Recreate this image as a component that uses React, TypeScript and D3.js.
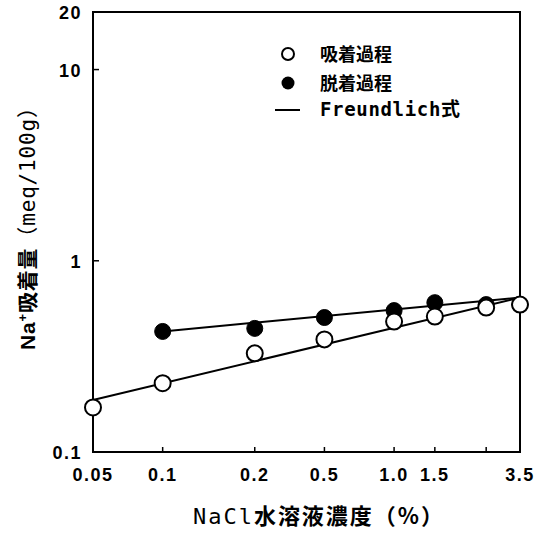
import * as d3 from 'd3'

// NaCl concentration (%) and Na+ adsorbed (meq/100g)
const concentrations = [0.05, 0.1, 0.25, 0.5, 1.0, 1.5, 2.5, 3.5]
const adsorption = [0.171, 0.229, 0.328, 0.388, 0.481, 0.511, 0.569, 0.59]
const desorptionConc = [0.1, 0.25, 0.5, 1.0, 1.5, 2.5, 3.5]
const desorption = [0.427, 0.443, 0.505, 0.549, 0.604, 0.59, 0.59]

// Freundlich fit lines (straight in log-log), end points
const adsorptionFitConc = [0.05, 3.5]
const adsorptionFit = [0.187, 0.642]
const desorptionFitConc = [0.1, 3.5]
const desorptionFit = [0.427, 0.642]

const xTicks = [0.05, 0.1, 0.25, 0.5, 1.0, 1.5, 2.5, 3.5]
const xTickLabels = ['0.05', '0.1', '0.2', '0.5', '1.0', '1.5', '', '3.5']
const yTicks = [0.1, 1, 10, 20]
const yTickLabels = ['0.1', '1', '10', '20']

const W = 534
const H = 535
const margin = { top: 12, right: 14, bottom: 83, left: 93 }

const tickFont = '"Liberation Sans", Arial, sans-serif'
const cjkFont = '"Noto Sans CJK JP", sans-serif'
const monoFont = '"DejaVu Sans Mono", monospace'

export default function App() {
  const x = d3.scaleLog().domain([0.05, 3.5]).range([margin.left, W - margin.right])
  const y = d3.scaleLog().domain([0.1, 20]).range([H - margin.bottom, margin.top])

  const line = d3.line<[number, number]>()
    .x(d => x(d[0]))
    .y(d => y(d[1]))

  const adsFit = adsorptionFitConc.map((c, i) => [c, adsorptionFit[i]] as [number, number])
  const desFit = desorptionFitConc.map((c, i) => [c, desorptionFit[i]] as [number, number])

  const x0 = margin.left
  const x1 = W - margin.right
  const y0 = H - margin.bottom
  const y1 = margin.top

  return (
    <svg width={W} height={H} style={{ position: 'absolute', left: 0, top: 0, background: '#fff' }}>
      {/* frame */}
      <rect x={x0} y={y1} width={x1 - x0} height={y0 - y1} fill="none" stroke="#000" strokeWidth={2} />

      {/* x ticks, inward */}
      {xTicks.map((t, i) => (
        <g key={'xt' + i}>
          <line x1={x(t)} x2={x(t)} y1={y0} y2={y0 - 5} stroke="#000" strokeWidth={1.5} />
          <text x={x(t)} y={y0 + 29} textAnchor="middle" fontFamily={tickFont} fontWeight="bold"
            fontSize={18} letterSpacing={1.5}>{xTickLabels[i]}</text>
        </g>
      ))}

      {/* y ticks, inward */}
      {yTicks.map((t, i) => (
        <g key={'yt' + i}>
          {t > 0.1 && t < 20 && (
            <line x1={x0} x2={x0 + 6} y1={y(t)} y2={y(t)} stroke="#000" strokeWidth={1.5} />
          )}
          <text x={82} y={y(t) + 7} textAnchor="end" fontFamily={tickFont} fontWeight="bold"
            fontSize={18} letterSpacing={1.5}>{yTickLabels[i]}</text>
        </g>
      ))}

      {/* Freundlich lines */}
      <path d={line(adsFit) ?? ''} fill="none" stroke="#000" strokeWidth={2} />
      <path d={line(desFit) ?? ''} fill="none" stroke="#000" strokeWidth={2} />

      {/* desorption (filled) */}
      {desorptionConc.map((c, i) => (
        <circle key={'d' + i} cx={x(c)} cy={y(desorption[i])} r={8} fill="#000" stroke="#000" strokeWidth={1} />
      ))}

      {/* adsorption (open) */}
      {concentrations.map((c, i) => (
        <circle key={'a' + i} cx={x(c)} cy={y(adsorption[i])} r={8} fill="#fff" stroke="#000" strokeWidth={2} />
      ))}

      {/* legend */}
      <circle cx={288} cy={54} r={6} fill="#fff" stroke="#000" strokeWidth={2} />
      <text x={320} y={61} fontFamily={cjkFont} fontSize={18} fontWeight="bold">吸着過程</text>
      <circle cx={288} cy={83} r={6.5} fill="#000" />
      <text x={320} y={90} fontFamily={cjkFont} fontSize={18} fontWeight="bold">脱着過程</text>
      <line x1={275} x2={300} y1={110} y2={110} stroke="#000" strokeWidth={2} />
      <text x={320} y={116} fontSize={19} textLength={140} lengthAdjust="spacing">
        <tspan fontFamily={monoFont} fontWeight="bold">Freundlich</tspan>
        <tspan fontFamily={cjkFont} fontWeight="bold">式</tspan>
      </text>

      {/* x axis title */}
      <text x={193} y={524} fontSize={22} textLength={250} lengthAdjust="spacing">
        <tspan fontFamily={monoFont}>NaCl</tspan>
        <tspan fontFamily={cjkFont} fontWeight="bold">水溶液濃度（%）</tspan>
      </text>

      {/* y axis title */}
      <text transform="translate(35,350) rotate(-90)" fontSize={21} textLength={253} lengthAdjust="spacing">
        <tspan fontFamily={tickFont} fontWeight="bold">Na</tspan>
        <tspan fontFamily={tickFont} fontWeight="bold" fontSize={13} dy={-8}>+</tspan>
        <tspan fontFamily={cjkFont} fontWeight="bold" dy={8}>吸着量</tspan>
        <tspan fontFamily={cjkFont}>（</tspan>
        <tspan fontFamily={monoFont}>meq/100g</tspan>
        <tspan fontFamily={cjkFont}>）</tspan>
      </text>
    </svg>
  )
}
